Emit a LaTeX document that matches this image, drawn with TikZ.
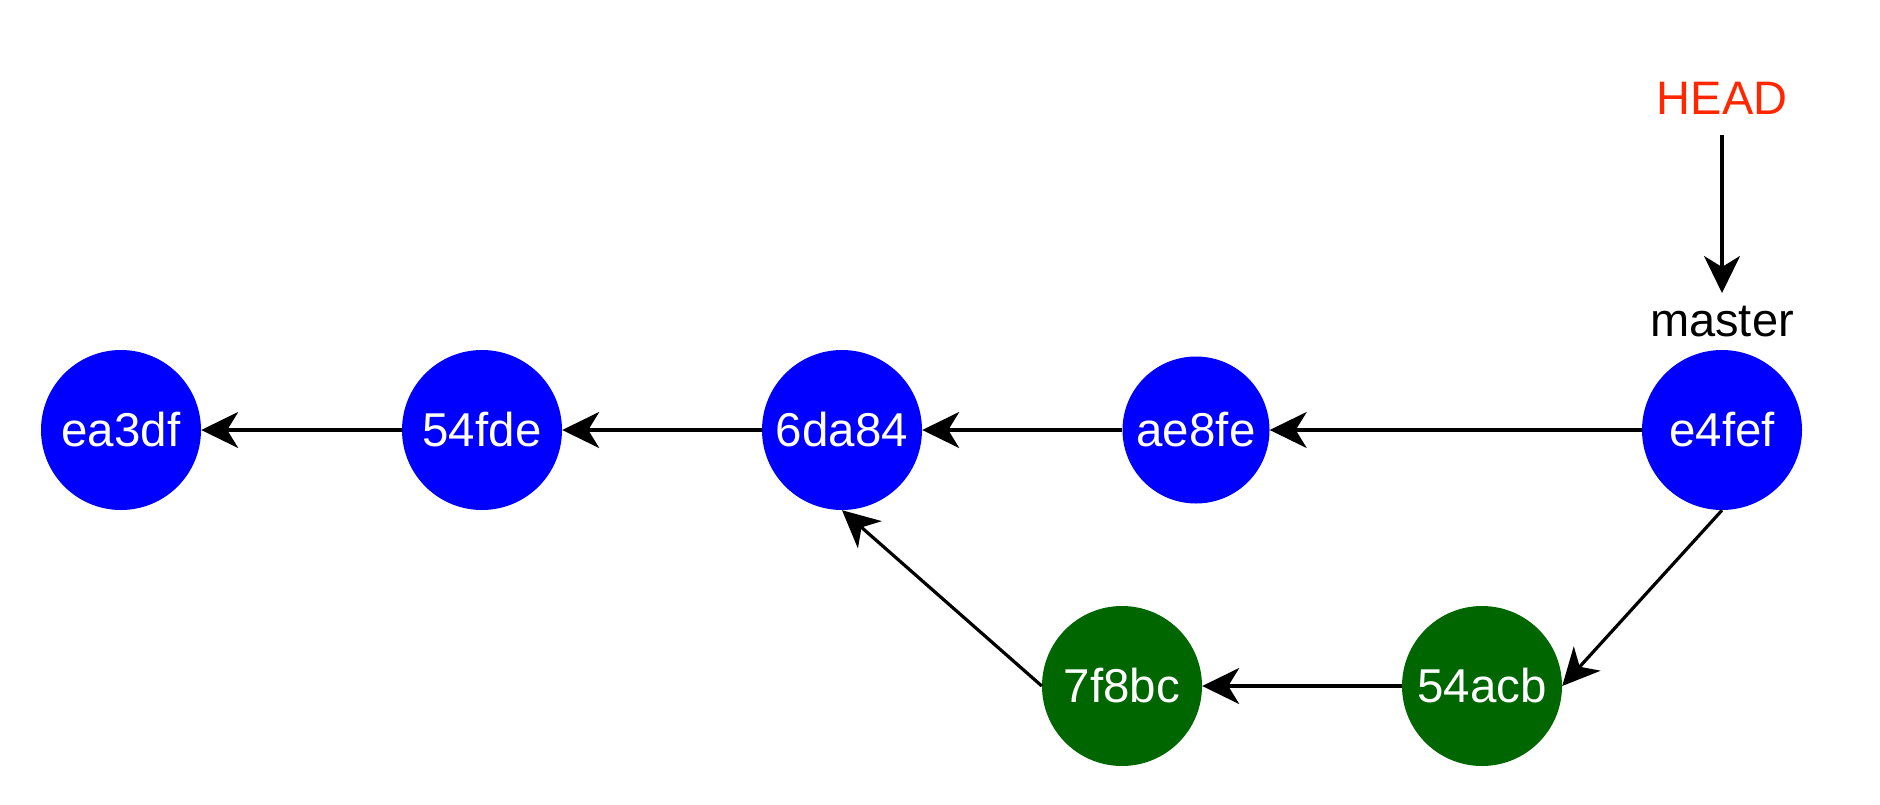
\documentclass[tikz,border=0pt]{standalone}
\usepackage{fontspec}
\setmainfont{Liberation Sans}
\usetikzlibrary{arrows.meta}
\definecolor{cblue}{RGB}{0,0,255}
\definecolor{cgreen}{RGB}{0,102,0}
\definecolor{headred}{RGB}{255,38,0}
\begin{document}
\begin{tikzpicture}[x=1pt,y=-1pt,
  commit/.style={circle,minimum size=160pt,inner sep=0pt,text=white,
    font=\fontsize{47.5}{56}\selectfont},
  bluec/.style={commit,fill=cblue},
  greenc/.style={commit,fill=cgreen},
  smallc/.style={minimum size=147pt},
  label/.style={inner sep=0pt,font=\fontsize{47}{56}\selectfont},
  link/.style={line width=3.2pt,-{Stealth[length=37pt,width=36pt,inset=11pt]}}]
\useasboundingbox (0,0) rectangle (1880,804);
\node[bluec] (ea3df) at (121,430) {ea3df};
\node[bluec] (54fde) at (482,430) {54fde};
\node[bluec] (6da84) at (842,430) {6da84};
\node[bluec,smallc] (ae8fe) at (1196,430) {ae8fe};
\node[bluec] (e4fef) at (1722,430) {e4fef};
\node[greenc] (7f8bc) at (1122,686) {7f8bc};
\node[greenc] (54acb) at (1482,686) {54acb};
\node[label,text=headred] (head) at (1722,98) {HEAD};
\node[label] (master) at (1722,322) {master};
\coordinate (headbot) at (1722,135);
\coordinate (mastertop) at (1722,293);
\draw[link] (headbot) -- (mastertop);
\draw[link] (54fde.west) -- (ea3df.east);
\draw[link] (6da84.west) -- (54fde.east);
\draw[link] (ae8fe.west) -- (6da84.east);
\draw[link] (e4fef.west) -- (ae8fe.east);
\draw[link] (e4fef.south) -- (54acb.east);
\draw[link] (54acb.west) -- (7f8bc.east);
\draw[link] (7f8bc.west) -- (6da84.south);
\end{tikzpicture}
\end{document}
